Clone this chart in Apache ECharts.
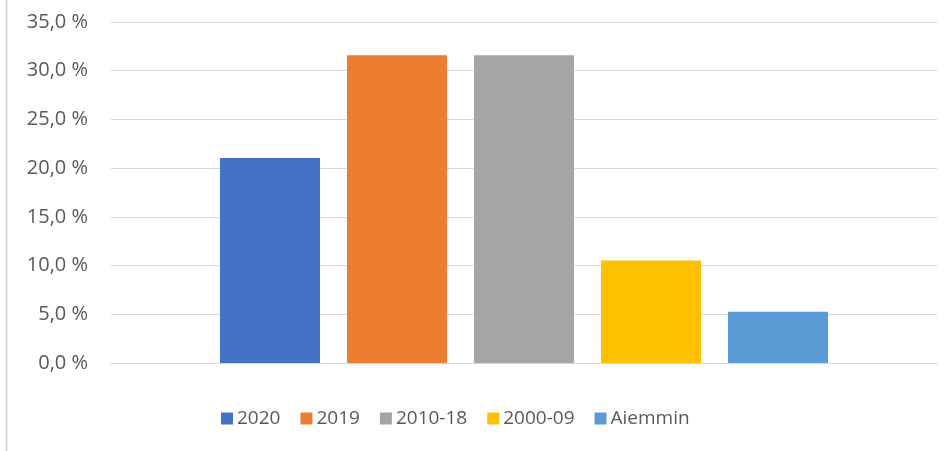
<!DOCTYPE html>
<html>
<head>
<meta charset="utf-8">
<script src="https://cdn.jsdelivr.net/npm/echarts@6/dist/echarts.min.js"></script>
<style>
  html, body { margin: 0; padding: 0; background: #fff; }
  #chart { width: 952px; height: 451px; }
</style>
</head>
<body>
<div id="chart"></div>
<script>
// data
const seriesNames = ['2020', '2019', '2010-18', '2000-09', 'Aiemmin'];
const seriesValues = [21.05, 31.58, 31.58, 10.53, 5.26];
const seriesColors = ['#4472C4', '#ED7D31', '#A5A5A5', '#FFC000', '#5B9BD5'];
const yTicks = [0, 5, 10, 15, 20, 25, 30, 35];

const chart = echarts.init(document.getElementById('chart'));

const option = {
  animation: false,
  textStyle: { fontFamily: 'Open Sans' },
  grid: { left: 111, right: 15, top: 22, bottom: 88 },
  legend: {
    top: 404,
    left: 216,
    itemWidth: 12,
    itemHeight: 12,
    itemGap: 20,
    icon: 'rect',
    textStyle: { color: '#595959', fontSize: 19, padding: [0, 0, 0, -1] },
    data: seriesNames,
  },
  xAxis: {
    type: 'category',
    data: [''],
    axisLine: { lineStyle: { color: '#D9D9D9', width: 1 } },
    axisTick: { show: false },
    axisLabel: { show: false },
  },
  yAxis: {
    type: 'value',
    min: yTicks[0],
    max: yTicks[yTicks.length - 1],
    interval: 5,
    axisLine: { show: false },
    axisTick: { show: false },
    splitLine: { lineStyle: { color: '#D9D9D9', width: 1 } },
    axisLabel: {
      color: '#595959',
      fontSize: 20,
      margin: 23,
      formatter: (v) => v.toFixed(1).replace('.', ',') + ' %',
    },
  },
  graphic: [
    {
      type: 'line',
      shape: { x1: 6.5, y1: 0, x2: 6.5, y2: 451 },
      style: { stroke: '#D9D9D9', lineWidth: 2 },
    },
  ],
  series: seriesNames.map((name, i) => ({
    name: name,
    type: 'bar',
    data: [seriesValues[i]],
    barWidth: 100,
    barGap: '27%',
    itemStyle: { color: seriesColors[i] },
  })),
};

chart.setOption(option);
</script>
</body>
</html>
